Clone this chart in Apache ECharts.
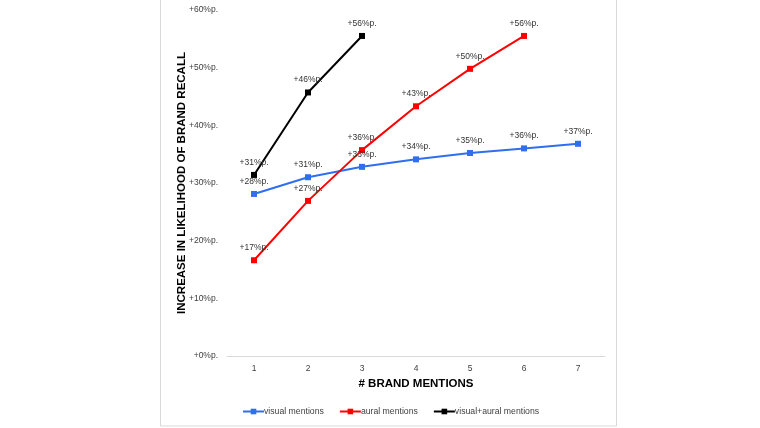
<!DOCTYPE html>
<html>
<head>
<meta charset="utf-8">
<style>html,body{margin:0;padding:0;background:#fff;}#c{width:760px;height:428px;}</style>
<script src="https://cdn.jsdelivr.net/npm/echarts@6/dist/echarts.min.js"></script>
</head>
<body>
<div id="c"></div>
<script>
var categories = ['1', '2', '3', '4', '5', '6', '7'];
var visualMentions = [28.1, 31.0, 32.8, 34.1, 35.2, 36.0, 36.8];
var auralMentions = [16.6, 26.9, 35.7, 43.3, 49.8, 55.5];
var combinedMentions = [31.4, 45.7, 55.5];
var yTicks = [0, 10, 20, 30, 40, 50, 60];

var chart = echarts.init(document.getElementById('c'), null, {renderer: 'canvas'});
var font = 'Liberation Sans, Arial, sans-serif';
function lbl(p) { return '+' + Math.round(p.value) + '%p.'; }
function mk(name, data, color) {
  return {
    name: name, type: 'line', data: data,
    symbol: 'rect', symbolSize: 6,
    lineStyle: {color: color, width: 2},
    itemStyle: {color: color},
    label: {show: true, position: 'top', formatter: lbl, color: '#333333', fontSize: 8.5, fontFamily: font},
    emphasis: {disabled: true},
    animation: false
  };
}
chart.setOption({
  animation: false,
  graphic: [{type: 'rect', shape: {x: 160.5, y: -2, width: 456, height: 428}, style: {fill: 'none', stroke: '#d9d9d9', lineWidth: 1}}],
  grid: {left: 227, right: 155, top: 10, bottom: 72},
  xAxis: {
    type: 'category', data: categories, boundaryGap: true,
    axisLine: {lineStyle: {color: '#d9d9d9'}},
    axisTick: {show: false},
    axisLabel: {color: '#404040', fontSize: 8.5, fontFamily: font, margin: 8},
    name: '# BRAND MENTIONS', nameLocation: 'middle', nameGap: 22, nameMoveOverlap: false,
    nameTextStyle: {color: '#000', fontWeight: 'bold', fontSize: 11.5, fontFamily: font}
  },
  yAxis: {
    type: 'value', min: 0, max: 60, interval: 10,
    splitLine: {show: false}, axisLine: {show: false}, axisTick: {show: false},
    axisLabel: {color: '#404040', fontSize: 8.5, fontFamily: font, margin: 9,
      formatter: function (v) { return yTicks.indexOf(v) >= 0 ? '+' + v + '%p.' : ''; }},
    name: 'INCREASE IN LIKELIHOOD OF BRAND RECALL', nameLocation: 'middle', nameGap: 39, nameRotate: 90,
    nameMoveOverlap: false,
    nameTextStyle: {color: '#000', fontWeight: 'bold', fontSize: 11.5, fontFamily: font}
  },
  legend: {
    bottom: 7, left: 237, itemWidth: 21, itemHeight: 7, itemGap: 15,
    textStyle: {color: '#404040', fontSize: 8.7, fontFamily: font, padding: [0, 0, 0, -5]},
    data: ['visual mentions', 'aural mentions', 'visual+aural mentions']
  },
  series: [
    mk('visual mentions', visualMentions, '#2f6fef'),
    mk('aural mentions', auralMentions, '#ff0000'),
    mk('visual+aural mentions', combinedMentions, '#000000')
  ]
});
</script>
</body>
</html>
